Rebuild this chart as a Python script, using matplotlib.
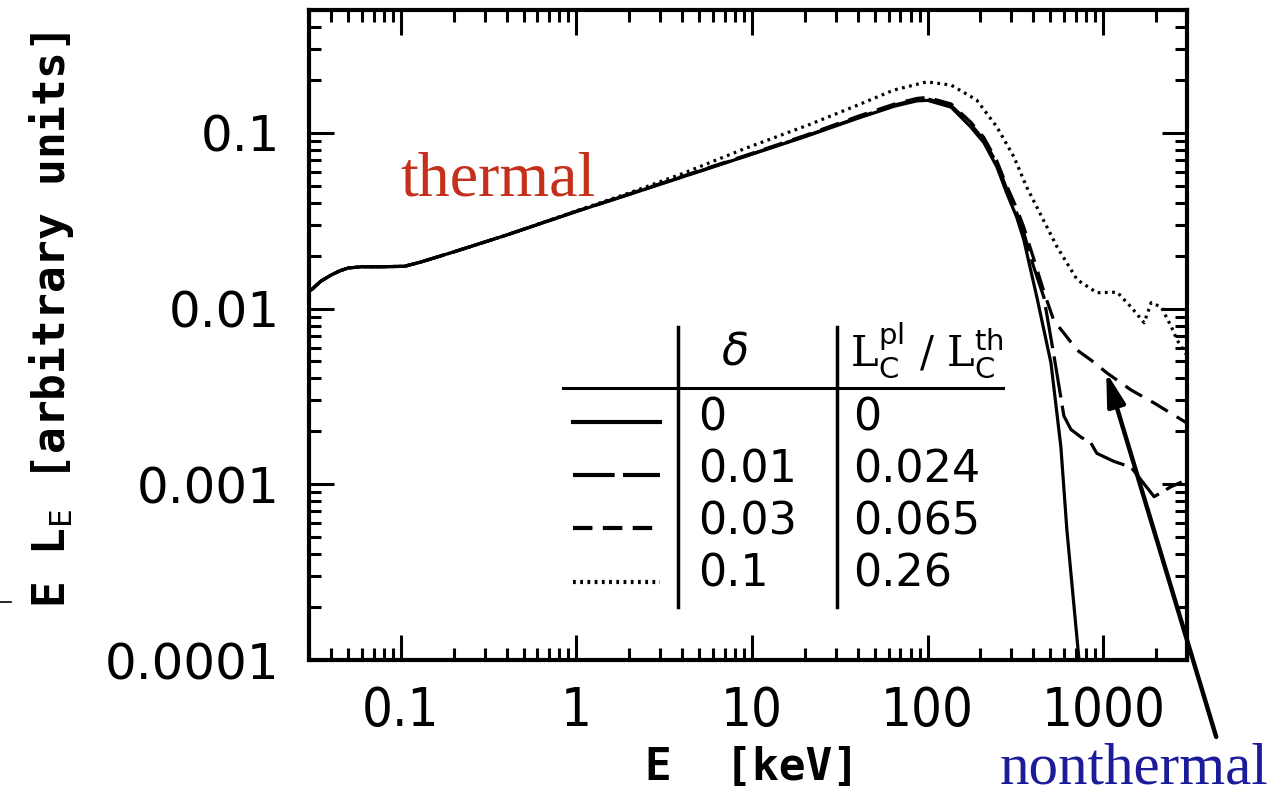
import matplotlib
matplotlib.use("Agg")
import matplotlib.pyplot as plt
from matplotlib.ticker import FixedLocator, FixedFormatter, LogLocator, NullFormatter
from matplotlib.lines import Line2D

# ---------------- data ----------------
E_low = [0.031, 0.035, 0.04, 0.045, 0.05, 0.06, 0.08, 0.105, 0.13, 0.2, 0.4]
L_low = [0.0128, 0.0143, 0.0155, 0.0164, 0.0170, 0.0173, 0.0173, 0.0174, 0.0184, 0.0210, 0.0262]

# delta = 0 (solid)
E_d0 = E_low + [1, 2, 4, 9, 20, 40, 65, 87, 100, 136, 176, 209, 248, 282, 322, 353, 419, 504, 574, 621, 728, 760]
L_d0 = L_low + [0.0357, 0.0446, 0.0560, 0.0730, 0.0950, 0.121, 0.142, 0.152, 0.153, 0.140, 0.108, 0.088,
                0.064, 0.0455, 0.033, 0.0246, 0.0116, 0.0049, 0.00163, 0.00055, 0.0001, 0.00007]

# delta = 0.01 (long dash)
E_d1 = E_low + [1, 2, 4, 9, 20, 40, 65, 87, 100, 136, 176, 209, 248, 282, 322, 353, 400, 459, 524, 597,
                655, 750, 850, 920, 1150, 1440, 1950, 2440, 2800]
L_d1 = L_low + [0.0357, 0.0447, 0.0562, 0.0733, 0.0955, 0.122, 0.144, 0.155, 0.156, 0.143, 0.112, 0.091,
                0.067, 0.048, 0.035, 0.027, 0.0175, 0.0116, 0.0054, 0.00245, 0.00205, 0.00185, 0.00172,
                0.0015, 0.00135, 0.00125, 0.00085, 0.00097, 0.00103]

# delta = 0.03 (short dash)
E_d3 = E_low + [1, 2, 4, 9, 20, 40, 65, 87, 100, 136, 176, 209, 248, 282, 322, 353, 400, 459, 524, 600,
                710, 850, 1050, 1440, 1950, 3000]
L_d3 = L_low + [0.0358, 0.0449, 0.0565, 0.0738, 0.0965, 0.124, 0.146, 0.157, 0.159, 0.146, 0.115, 0.094,
                0.069, 0.050, 0.037, 0.029, 0.0195, 0.0125, 0.0085, 0.0072, 0.0058, 0.0051, 0.0043,
                0.00344, 0.0029, 0.00223]

# delta = 0.1 (dotted)
E_d10 = E_low + [1, 2, 4, 9, 21.5, 41.5, 64, 99, 136, 190, 248, 310, 367, 442, 545, 710, 922, 1200, 1440,
                 1710, 1875, 2140, 2440, 2640, 3000]
L_d10 = L_low + [0.0360, 0.0455, 0.0585, 0.081, 0.112, 0.146, 0.175, 0.195, 0.187, 0.154, 0.108, 0.073,
                 0.049, 0.034, 0.0225, 0.0146, 0.0123, 0.0124, 0.0102, 0.0083, 0.0108, 0.0102, 0.0079,
                 0.0066, 0.0054]

delta_labels = ["0", "0.01", "0.03", "0.1"]
ratio_labels = ["0", "0.024", "0.065", "0.26"]

xtick_vals = [0.1, 1, 10, 100, 1000]
xtick_labels = ["0.1", "1", "10", "100", "1000"]
ytick_vals = [0.0001, 0.001, 0.01, 0.1]
ytick_labels = ["0.0001", "0.001", "0.01", "0.1"]

# ---------------- figure ----------------
W, H = 1284, 798
fig = plt.figure(figsize=(W / 100, H / 100), dpi=100)
ax = fig.add_axes([309 / W, 1 - 660 / H, (1187 - 309) / W, (660 - 10) / H])

# dash patterns in points (absolute), converted to linewidth units per line
patterns_pt = [None, (30, 6), (14, 7.5), (2.0, 3.2)]

def style(i, lw):
    p = patterns_pt[i]
    if p is None:
        return dict(linestyle="-", lw=lw)
    return dict(linestyle=(0, (p[0] / lw, p[1] / lw)), lw=lw)

series = [(E_d0, L_d0), (E_d1, L_d1), (E_d3, L_d3), (E_d10, L_d10)]
for i, (e, l) in enumerate(series):
    ax.plot(e, l, color="black", **style(i, 2.3))

ax.set_xscale("log")
ax.set_yscale("log")
ax.set_xlim(0.03, 3000)
ax.set_ylim(1e-4, 0.5)

ax.xaxis.set_major_locator(FixedLocator(xtick_vals))
ax.xaxis.set_major_formatter(FixedFormatter(xtick_labels))
ax.yaxis.set_major_locator(FixedLocator(ytick_vals))
ax.yaxis.set_major_formatter(FixedFormatter(ytick_labels))
for a in (ax.xaxis, ax.yaxis):
    a.set_minor_locator(LogLocator(base=10, subs=range(2, 10), numticks=20))
    a.set_minor_formatter(NullFormatter())

ax.tick_params(which="both", direction="in", top=True, right=True, width=2.2, color="black")
ax.tick_params(which="major", length=18)
ax.tick_params(which="minor", length=8.6)
ax.tick_params(axis="y", pad=21)
ax.tick_params(axis="x", pad=18)
for lab in ax.get_yticklabels():
    lab.set_fontfamily("DejaVu Sans")
    lab.set_fontsize(36)
for lab in ax.get_xticklabels():
    lab.set_fontfamily("DejaVu Sans")
    lab.set_fontstretch("condensed")
    lab.set_fontsize(39)
for sp in ax.spines.values():
    sp.set_linewidth(3)

# axis labels
fig.text(752 / W, 1 - 768 / H, "E  [keV]", family="DejaVu Sans Mono", weight="bold",
         fontsize=32, ha="center", va="center")
fig.text(52 / W, 1 - 320 / H, r"E L$_\mathtt{E}$ [arbitrary units]", family="DejaVu Sans Mono",
         weight="bold", fontsize=32, ha="center", va="center", rotation=90)
fig.add_artist(Line2D([0 / W, 11 / W], [1 - 602 / H, 1 - 602 / H], color="black", lw=1.2))

# annotations
fig.text(400 / W, 1 - 195 / H, "thermal", family="Liberation Serif", fontsize=46,
         color="#c4301c", ha="left", va="baseline")
fig.text(1000 / W, 2 / H, "nonthermal", family="Liberation Serif", fontsize=42.5,
         color="#1c1c9a", ha="left", va="bottom")
ax.annotate("", xy=(1040, 0.00435), xytext=(4400, 3.65e-5), xycoords="data", textcoords="data",
            annotation_clip=False,
            arrowprops=dict(arrowstyle="-|>,head_length=0.8,head_width=0.22", lw=3.2,
                            color="black", shrinkA=0, shrinkB=0, mutation_scale=25))

# legend table
T = ax.transAxes
def fx(px):
    return (px - 309) / 878
def fy(py):
    return (660 - py) / 650

ax.add_line(Line2D([fx(563), fx(1003)], [fy(388), fy(388)], transform=T, color="black", lw=2.2))
for vx in (678, 837):
    ax.add_line(Line2D([fx(vx), fx(vx)], [fy(327), fy(607)], transform=T, color="black", lw=2.5))

row_line_y = [422, 475, 528, 582]
row_text_y = [418, 470, 522, 574]
for i, (ly, ty, dl, rl) in enumerate(zip(row_line_y, row_text_y, delta_labels, ratio_labels)):
    ax.add_line(Line2D([fx(573), fx(660)], [fy(ly), fy(ly)], transform=T, color="black",
                       **style(i, 3.0)))
    ax.text(fx(698), fy(ty), dl, transform=T, family="DejaVu Sans", fontsize=32,
            ha="left", va="center")
    ax.text(fx(853), fy(ty), rl, transform=T, family="DejaVu Sans", fontsize=32,
            ha="left", va="center")

ax.text(fx(735), fy(352), r"$\delta$", transform=T, fontsize=32, ha="center", va="center",
        family="DejaVu Serif")
ax.text(fx(850), fy(350), r"L$_\mathrm{C}^\mathrm{pl}$ / L$_\mathrm{C}^\mathrm{th}$", transform=T,
        family="DejaVu Serif", fontsize=30, ha="left", va="center")

fig.savefig("out.png", dpi=100)
